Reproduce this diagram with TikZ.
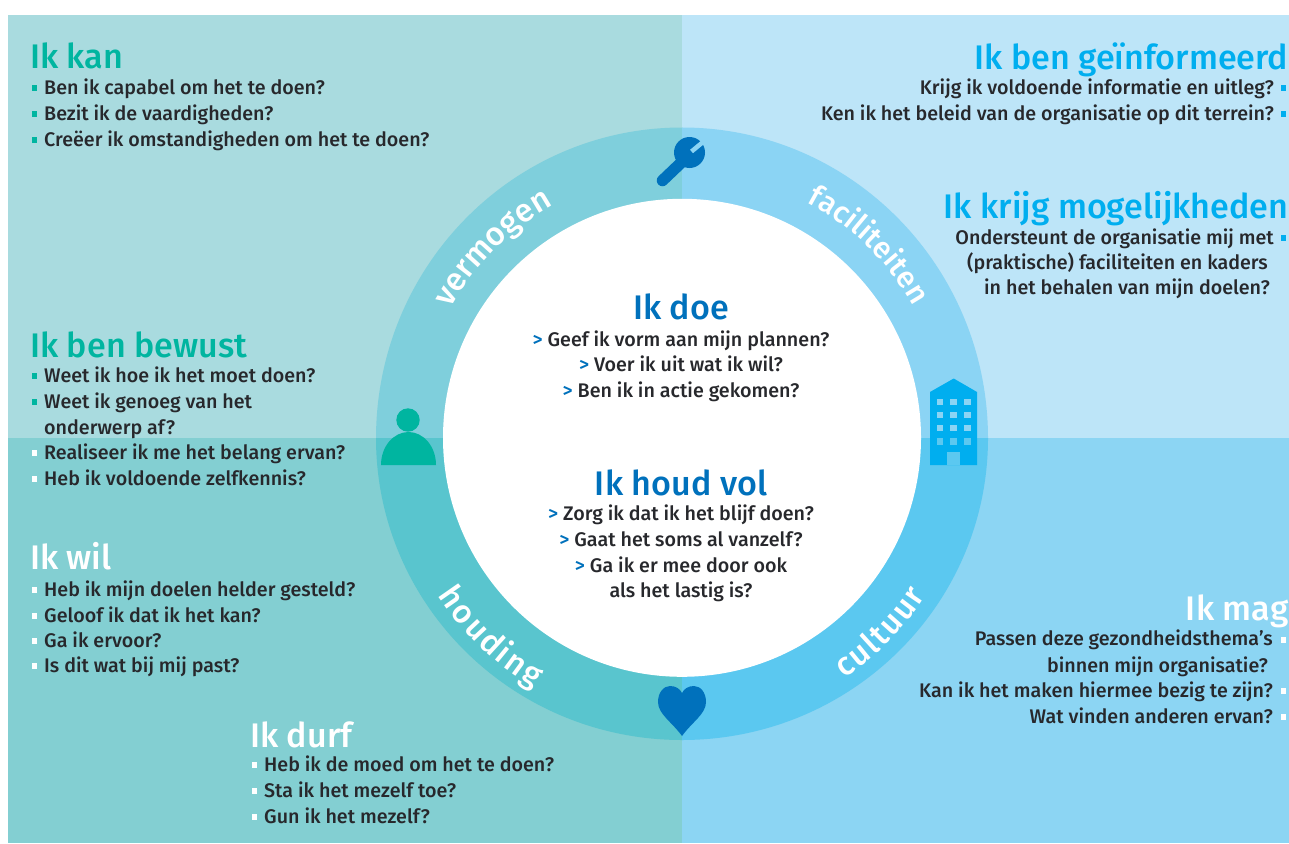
\documentclass[tikz,border=0pt]{standalone}
\usepackage{fontspec}
\setmainfont{Fira Sans}[UprightFont=* Medium]
\usetikzlibrary{decorations.text}
\definecolor{qTL}{HTML}{A9DBDF}\definecolor{qTR}{HTML}{BDE5F8}
\definecolor{qBL}{HTML}{83CFD2}\definecolor{qBR}{HTML}{8CD5F3}
\definecolor{rTL}{HTML}{7FCFDC}\definecolor{rTR}{HTML}{8BD4F4}
\definecolor{rBL}{HTML}{59C5CE}\definecolor{rBR}{HTML}{5BC8F0}
\definecolor{teal}{HTML}{00B5A0}\definecolor{sky}{HTML}{00AEEF}
\definecolor{deep}{HTML}{0071BC}\definecolor{ink}{HTML}{27282C}
\newcommand{\titlefont}{\fontsize{34.1}{34.1}\selectfont}
\newcommand{\bodyfont}{\fontsize{19.7}{19.7}\selectfont}
\newcommand{\arcfont}{\fontsize{32.5}{32.5}\selectfont}
\newcommand{\arcsmall}{\fontsize{30}{30}\selectfont}
\tikzset{
  titleL/.style={anchor=base west,inner sep=0pt,font=\titlefont},
  titleR/.style={anchor=base east,inner sep=0pt,font=\titlefont},
  titleC/.style={anchor=base,inner sep=0pt,font=\titlefont,text=deep},
  lineL/.style={anchor=base west,inner sep=0pt,font=\bodyfont,text=ink},
  lineR/.style={anchor=base east,inner sep=0pt,font=\bodyfont,text=ink},
  lineC/.style={anchor=base,inner sep=0pt,font=\bodyfont,text=ink},
  arctext/.style={decorate,decoration={text along path,text align={fit to path},text={|\arcfont\color{white}|#1}}},
  arctextsmall/.style={decorate,decoration={text along path,text align={fit to path},text={|\arcsmall\color{white}|#1}}}
}
\newcommand{\sq}[3]{\fill[#3] (#1-2.7,#2-2.7) rectangle (#1+2.7,#2+2.7);}
\newcommand{\arr}{\textcolor{deep}{>}\ }
\begin{document}
\begin{tikzpicture}[x=1pt,y=-1pt]
\useasboundingbox (0,0) rectangle (1289,843);
\fill[white] (0,0) rectangle (1289,843);
\coordinate (O) at (682,437);
% quadrants
\fill[qTL] (8,15) rectangle (682.5,438.5);
\fill[qTR] (682,15) rectangle (1289,438.5);
\fill[qBL] (8,438) rectangle (682.5,843);
\fill[qBR] (682,438) rectangle (1289,843);
% ring
\fill[rTL] (682.5,438.5) -- (376,438.5) arc[start angle=180,end angle=90,x radius=306pt,y radius=311pt] -- (682.5,127.5) -- cycle;
\fill[rBL] (682.5,438) -- (376,438) arc[start angle=180,end angle=270,x radius=306pt,y radius=302pt] -- (682.5,740) -- cycle;
\fill[rTR] (682,438.5) -- (988,438.5) arc[start angle=0,end angle=90,x radius=306pt,y radius=311pt] -- cycle;
\fill[rBR] (682,438) -- (988,438) arc[start angle=0,end angle=-90,x radius=306pt,y radius=302pt] -- cycle;
\fill[white] (682,437.8) circle[radius=239pt];
% ring words
\path[arctext=vermogen] (O) ++(151:265pt) arc[start angle=151,end angle=121,radius=265pt];
\path[arctextsmall=faciliteiten] (O) ++(62:266pt) arc[start angle=62,end angle=29.5,radius=266pt];
\path[arctext=houding] (O) ++(213:291pt) arc[start angle=213,end angle=239.5,radius=291pt];
\path[arctext=cultuur] (O) ++(304:291pt) arc[start angle=304,end angle=327,radius=291pt];
% wrench
\draw[deep,line width=11.5pt,line cap=round] (662.5,180.5) -- (684,160);
\fill[deep] (689.5,152.5) circle[radius=15.5pt];
\draw[rTR,line width=4.5pt] (691.5,151.5) -- (706,139.5);
% person
\fill[teal] (408,420) circle[radius=11.7pt];
\fill[teal] (381,465) arc[x radius=27.5pt,y radius=33pt,start angle=180,end angle=0] -- cycle;
% building
\fill[sky] (930,392) -- (953.7,378.5) -- (977,392) -- (977,465) -- (930,465) -- cycle;
\fill[rBR] (947,452) rectangle (960,465);
\foreach \wy/\wc in {398.7/rTR,412/rTR,425/rTR,438.3/rBR}
  \foreach \wx in {936.7,950.3,964}
    \fill[\wc] (\wx,\wy) rectangle ++(6.6,6.4);
% heart
\fill[deep] (682,736) .. controls (672,722) and (658,714) .. (658,702)
  .. controls (658,692) and (664,686) .. (670,686)
  .. controls (676,686) and (680,689) .. (682,693)
  .. controls (684,689) and (688,686) .. (694,686)
  .. controls (700,686) and (706,692) .. (706,702)
  .. controls (706,714) and (692,722) .. (682,736) -- cycle;
% top left
\node[titleL,text=teal] (kan) at (30,68) {Ik kan};
\node[lineL] (kan1) at (44,94) {Ben ik capabel om het te doen?};
\node[lineL] (kan2) at (44,120) {Bezit ik de vaardigheden?};
\node[lineL] (kan3) at (44,146) {Creëer ik omstandigheden om het te doen?};
\sq{34.5}{88}{teal}\sq{34.5}{114}{teal}\sq{34.5}{140}{teal}
\node[titleL,text=teal] (bew) at (30,357) {Ik ben bewust};
\node[lineL] (bew1) at (44,382) {Weet ik hoe ik het moet doen?};
\node[lineL] (bew2) at (44,408) {Weet ik genoeg van het};
\node[lineL] (bew3) at (44,434) {onderwerp af?};
\node[lineL] (bew4) at (44,459) {Realiseer ik me het belang ervan?};
\node[lineL] (bew5) at (44,485) {Heb ik voldoende zelfkennis?};
\sq{34.5}{376}{teal}\sq{34.5}{402}{teal}\sq{34.5}{453}{white}\sq{34.5}{479}{white}
\node[titleL,text=white] (wil) at (30,569) {Ik wil};
\node[lineL] (wil1) at (44,596) {Heb ik mijn doelen helder gesteld?};
\node[lineL] (wil2) at (44,622) {Geloof ik dat ik het kan?};
\node[lineL] (wil3) at (44,647) {Ga ik ervoor?};
\node[lineL] (wil4) at (44,672) {Is dit wat bij mij past?};
\sq{34.5}{590}{white}\sq{34.5}{616}{white}\sq{34.5}{641}{white}\sq{34.5}{666}{white}
\node[titleL,text=white] (durf) at (250,747) {Ik durf};
\node[lineL] (durf1) at (264,771) {Heb ik de moed om het te doen?};
\node[lineL] (durf2) at (264,797) {Sta ik het mezelf toe?};
\node[lineL] (durf3) at (264,823) {Gun ik het mezelf?};
\sq{254.5}{765}{white}\sq{254.5}{791}{white}\sq{254.5}{817}{white}
% right
\node[titleR,text=sky] (inf) at (1288.5,70) {Ik ben geïnformeerd};
\node[lineR] (inf1) at (1274,94) {Krijg ik voldoende informatie en uitleg?};
\node[lineR] (inf2) at (1274,120) {Ken ik het beleid van de organisatie op dit terrein?};
\sq{1283.5}{88}{sky}\sq{1283.5}{114}{sky}
\node[titleR,text=sky] (mog) at (1288.5,218) {Ik krijg mogelijkheden};
\node[lineR] (mog1) at (1274,244) {Ondersteunt de organisatie mij met};
\node[lineR] (mog2) at (1268,269) {(praktische) faciliteiten en kaders};
\node[lineR] (mog3) at (1270,294) {in het behalen van mijn doelen?};
\sq{1283.5}{238}{sky}
\node[titleR,text=white] (mag) at (1288.5,620) {Ik mag};
\node[lineR] (mag1) at (1273,645) {Passen deze gezondheidsthema’s};
\node[lineR] (mag2) at (1268,672) {binnen mijn organisatie?};
\node[lineR] (mag3) at (1273,697) {Kan ik het maken hiermee bezig te zijn?};
\node[lineR] (mag4) at (1273,723) {Wat vinden anderen ervan?};
\sq{1283.5}{640}{white}\sq{1283.5}{691}{white}\sq{1283.5}{717}{white}
% centre
\node[titleC] (doe) at (681,319) {Ik doe};
\node[lineC] (doe1) at (681,346) {\arr Geef ik vorm aan mijn plannen?};
\node[lineC] (doe2) at (681,371) {\arr Voer ik uit wat ik wil?};
\node[lineC] (doe3) at (681,397) {\arr Ben ik in actie gekomen?};
\node[titleC] (vol) at (681,495) {Ik houd vol};
\node[lineC] (vol1) at (681,520) {\arr Zorg ik dat ik het blijf doen?};
\node[lineC] (vol2) at (681,546) {\arr Gaat het soms al vanzelf?};
\node[lineC] (vol3) at (681,572) {\arr Ga ik er mee door ook};
\node[lineC] (vol4) at (681,597) {als het lastig is?};
\end{tikzpicture}
\end{document}
